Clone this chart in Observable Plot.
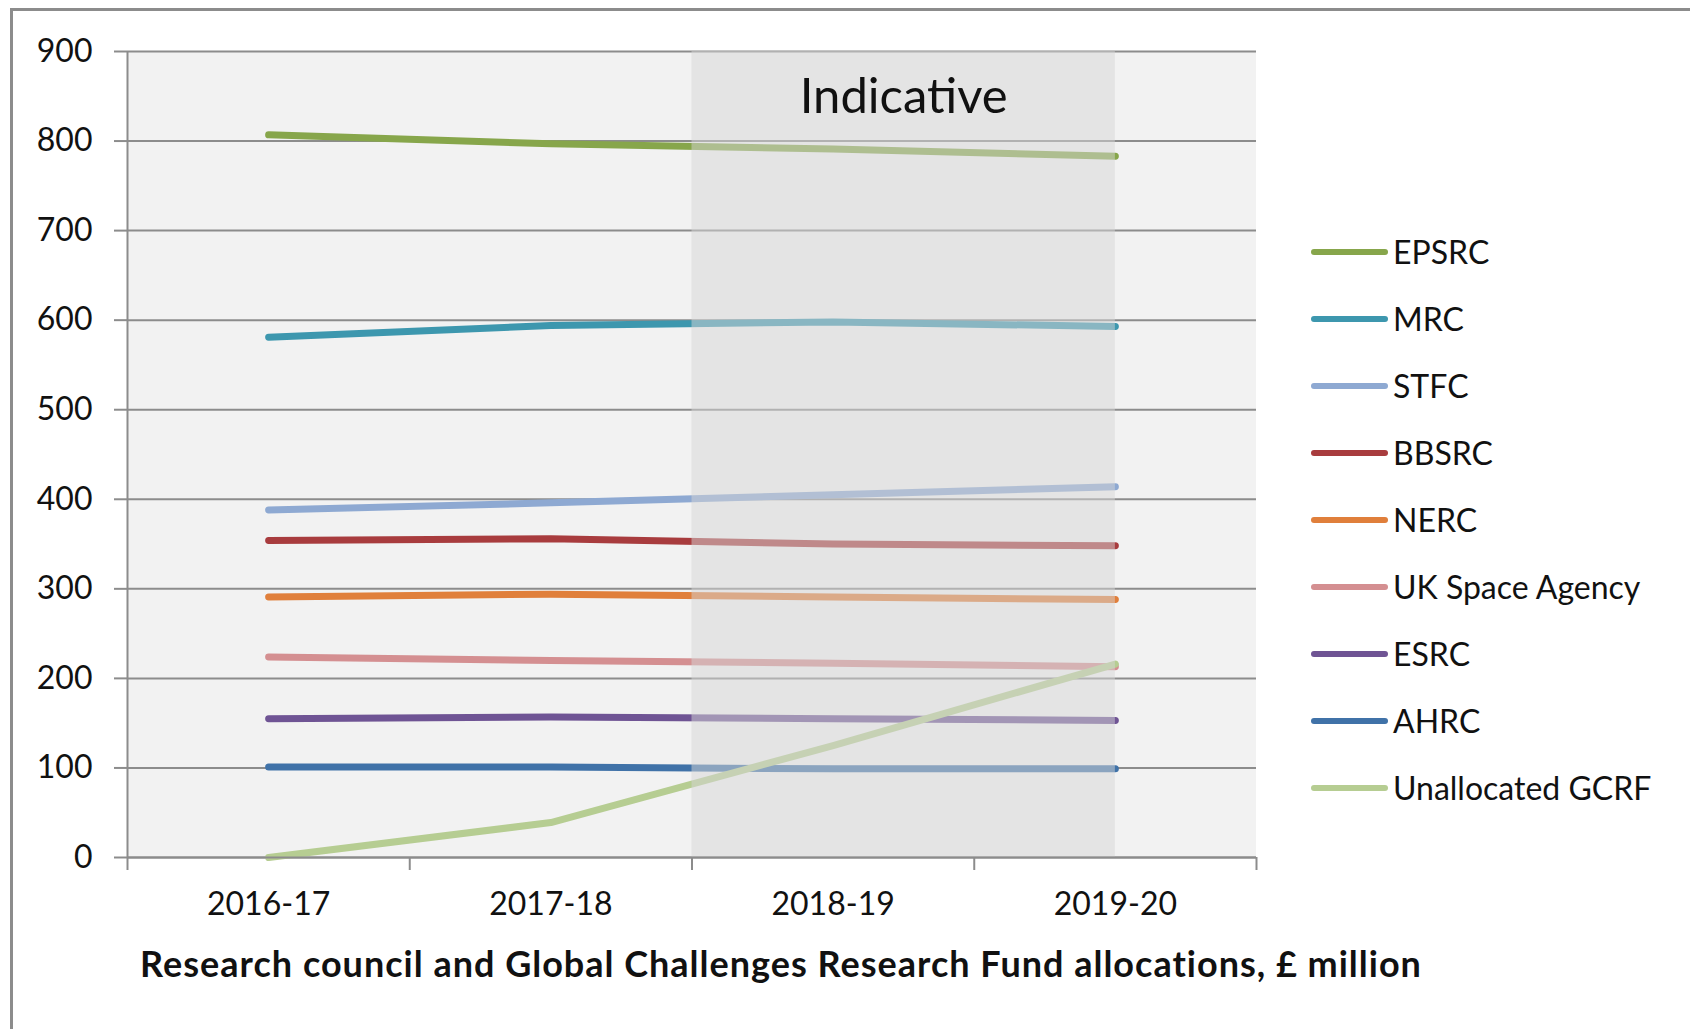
<!DOCTYPE html>
<html>
<head>
<meta charset="utf-8">
<script src="https://cdn.jsdelivr.net/npm/d3@7"></script>
<script src="https://cdn.jsdelivr.net/npm/@observablehq/plot@0.6"></script>
<style>
  html, body { margin: 0; padding: 0; background: #fff; }
  body { width: 1690px; height: 1029px; position: relative; overflow: hidden; font-family: Lato, sans-serif; }
  #frame { position: absolute; left: 10px; top: 8px; width: 1700px; height: 1100px;
           border-left: 3px solid #8c8c8c; border-top: 3px solid #8c8c8c; box-sizing: border-box; }
  #chart { position: absolute; left: 0; top: 0; }
  #title { position: absolute; left: 0; width: 1562px; top: 940px; text-align: center;
           font-weight: 700; font-size: 36px; letter-spacing: 1px; color: #111; line-height: 46px; white-space: nowrap; }
  #legend { position: absolute; left: 1311px; top: 218px; }
  .row { display: flex; align-items: center; height: 67.1px; }
  .row svg { display: block; }
  .row span { font-size: 32px; color: #111; margin-left: 5px; white-space: nowrap; line-height: 40px; }
</style>
</head>
<body>
<div id="frame"></div>
<div id="chart"></div>
<div id="legend"></div>
<div id="title">Research council and Global Challenges Research Fund allocations, £ million</div>
<script>
// ---- data ----
const years = ["2016-17", "2017-18", "2018-19", "2019-20"];
const seriesNames = ["EPSRC", "MRC", "STFC", "BBSRC", "NERC", "UK Space Agency", "ESRC", "AHRC", "Unallocated GCRF"];
const seriesColors = ["#87a64b", "#3d97ae", "#8ea9d2", "#a83c3e", "#e07f3b", "#d48f91", "#6f5494", "#4072a8", "#b6cd92"];
const EPSRC = [807, 797, 791, 783];
const MRC = [581, 594, 598, 593];
const STFC = [388, 396, 405, 414];
const BBSRC = [354, 356, 350, 348];
const NERC = [291, 294, 291, 288];
const UKSA = [224, 220, 217, 213];
const ESRC = [155, 157, 155, 153];
const AHRC = [101, 101, 99, 99];
const GCRF = [0, 39, 125, 216];
const yTicks = [0, 100, 200, 300, 400, 500, 600, 700, 800, 900];
const indicativeFrom = "2018-19";
const indicativeTo = "2019-20";
const indicativeLabel = "Indicative";

const seriesValues = [EPSRC, MRC, STFC, BBSRC, NERC, UKSA, ESRC, AHRC, GCRF];
const data = [];
seriesNames.forEach((s, k) => {
  seriesValues[k].forEach((v, i) => data.push({series: s, year: years[i], value: v}));
});

const xi = (y) => years.indexOf(y);            // band left edge in index units
const xc = (y) => years.indexOf(y) + 0.5;      // band centre
const region = [{x1: xi(indicativeFrom), x2: xc(indicativeTo)}];
const yMax = yTicks[yTicks.length - 1];
const gray = "#8c8c8c";

const chart = Plot.plot({
  width: 1690,
  height: 930,
  marginLeft: 127,
  marginRight: 434,
  marginTop: 51,
  marginBottom: 73,
  style: {fontFamily: "Lato, sans-serif", background: "transparent", color: "#111", overflow: "visible"},
  x: {type: "linear", domain: [0, years.length]},
  y: {type: "linear", domain: [0, yMax]},
  color: {domain: seriesNames, range: seriesColors},
  marks: [
    Plot.rect([{}], {x1: 0, x2: years.length, y1: 0, y2: yMax, fill: "#f2f2f2"}),
    Plot.gridY({ticks: yTicks, stroke: gray, strokeOpacity: 1, strokeWidth: 2}),
    Plot.line(data, {x: d => xc(d.year), y: "value", z: "series", stroke: "series",
      strokeWidth: 7, strokeLinecap: "round", strokeLinejoin: "round"}),
    Plot.rect(region, {x1: "x1", x2: "x2", y1: 0, y2: yMax, fill: "rgb(214,214,214)", fillOpacity: 0.5}),
    Plot.text([indicativeLabel], {x: (region[0].x1 + region[0].x2) / 2, frameAnchor: "top", dy: 46,
      lineAnchor: "middle", fontSize: 49, fill: "#111", text: d => d}),
    Plot.ruleY([0], {stroke: gray, strokeWidth: 2}),
    Plot.ruleX([0], {y1: 0, y2: yMax, stroke: gray, strokeWidth: 2}),
    Plot.axisY({ticks: yTicks, tickSize: 13, tickPadding: 22, fontSize: 32, stroke: gray, strokeWidth: 2,
      fill: "#111", label: null}),
    Plot.axisX({ticks: d3.range(0, years.length + 1), tickSize: 13, tickFormat: () => "", stroke: gray,
      strokeWidth: 2, label: null}),
    Plot.axisX({ticks: years.map(xc), tickSize: 0, tickPadding: 35, fontSize: 32,
      tickFormat: d => years[Math.round(d - 0.5)], fill: "#111", label: null})
  ]
});
document.getElementById("chart").appendChild(chart);

// ---- legend ----
const legend = document.getElementById("legend");
seriesNames.forEach((s, k) => {
  const row = document.createElement("div");
  row.className = "row";
  row.innerHTML = `<svg width="77" height="10"><line x1="3" y1="5" x2="74" y2="5" stroke="${seriesColors[k]}" stroke-width="6" stroke-linecap="round"/></svg><span>${s}</span>`;
  legend.appendChild(row);
});
</script>
</body>
</html>
